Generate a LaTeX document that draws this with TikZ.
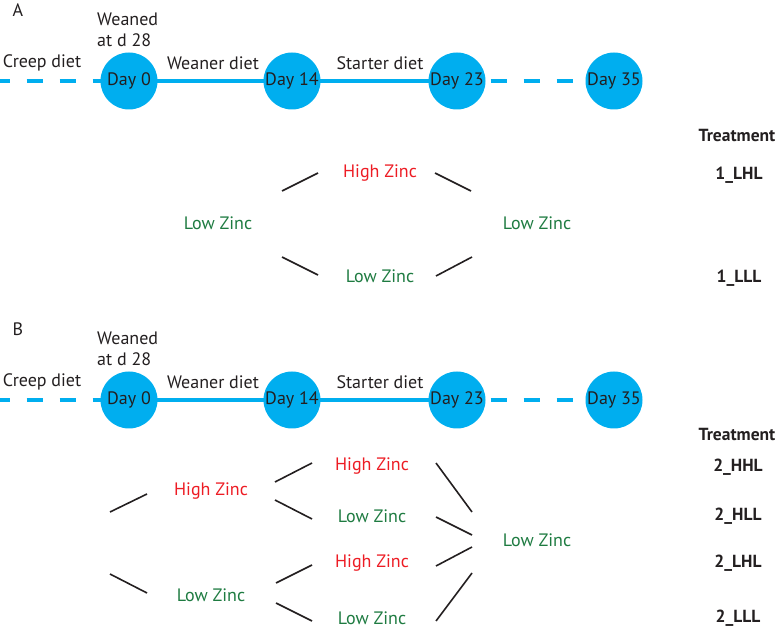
\documentclass[tikz,border=0pt]{standalone}
\usepackage{fontspec}
\setmainfont{PT Sans}
\definecolor{dayblue}{HTML}{00AEEF}
\definecolor{zred}{HTML}{ED1C24}
\definecolor{zgreen}{HTML}{1E7B41}
\definecolor{ink}{HTML}{231F20}
\begin{document}
\begin{tikzpicture}[x=1pt,y=-1pt,
  every node/.style={font=\fontsize{18}{21}\selectfont, text=ink, inner sep=0pt},
  day/.style={circle, fill=dayblue, minimum size=57pt},
  tl/.style={draw=dayblue, line width=3.6pt},
  tldash/.style={tl, dash pattern=on 16.5pt off 16.5pt},
  hz/.style={text=zred},
  lz/.style={text=zgreen},
  trt/.style={font=\fontsize{17.5}{20}\selectfont\bfseries},
  br/.style={draw=ink, line width=1.6pt}
]
\useasboundingbox (0,0) rectangle (777,628);

% ---------- Panel A ----------
\node (labA) at (18,10) {A};
\coordinate (a0) at (129,81);
\coordinate (a14) at (292,81);
\coordinate (a23) at (457,81);
\coordinate (a35) at (614,81);
\coordinate (aL) at (0,81);
\draw[tldash, dash phase=6.5pt] (aL) -- (a0);
\draw[tl] (a0) -- (a14) -- (a23);
\draw[tldash, dash phase=-0.5pt] (a23) -- (a35);
\node[day] (dA0) at (a0) {Day 0};
\node[day] (dA14) at (a14) {Day 14};
\node[day] (dA23) at (a23) {Day 23};
\node[day] (dA35) at (a35) {Day 35};
\node[align=left, anchor=west] (wA) at (97,30) {Weaned\\at d 28};
\node (cA) at (42,63) {Creep diet};
\node (weA) at (213,63) {Weaner diet};
\node (stA) at (380,63) {Starter diet};

\node[trt] (tA) at (737,136) {Treatment};
\node[trt] (tA1) at (739,175) {1\_LHL};
\node[trt] (tA2) at (739,278) {1\_LLL};

\node[hz] (hA) at (380,173) {High Zinc};
\node[lz] (lA1) at (218,223) {Low Zinc};
\node[lz] (lA2) at (537,223) {Low Zinc};
\node[lz] (lA3) at (380,276) {Low Zinc};
\draw[br] (282,191) -- (318,173);
\draw[br] (282,257) -- (318,275);
\draw[br] (435,173) -- (471,191);
\draw[br] (436,276) -- (472,257);

% ---------- Panel B ----------
\node (labB) at (18,329) {B};
\coordinate (b0) at (129,400);
\coordinate (b14) at (292,400);
\coordinate (b23) at (457,400);
\coordinate (b35) at (614,400);
\coordinate (bL) at (0,400);
\draw[tldash, dash phase=6.5pt] (bL) -- (b0);
\draw[tl] (b0) -- (b14) -- (b23);
\draw[tldash, dash phase=-0.5pt] (b23) -- (b35);
\node[day] (dB0) at (b0) {Day 0};
\node[day] (dB14) at (b14) {Day 14};
\node[day] (dB23) at (b23) {Day 23};
\node[day] (dB35) at (b35) {Day 35};
\node[align=left, anchor=west] (wB) at (97,349) {Weaned\\at d 28};
\node (cB) at (42,382) {Creep diet};
\node (weB) at (213,382) {Weaner diet};
\node (stB) at (380,382) {Starter diet};

\node[trt] (tB) at (737,434) {Treatment};
\node[trt] (tB1) at (738,467) {2\_HHL};
\node[trt] (tB2) at (738,516) {2\_HLL};
\node[trt] (tB3) at (738,563) {2\_LHL};
\node[trt] (tB4) at (738,618) {2\_LLL};

\node[hz] (hB1) at (211,491) {High Zinc};
\node[lz] (lB1) at (211,595) {Low Zinc};
\node[hz] (hB2) at (372,466) {High Zinc};
\node[lz] (lB2) at (372,516) {Low Zinc};
\node[hz] (hB3) at (372,563) {High Zinc};
\node[lz] (lB3) at (372,618) {Low Zinc};
\node[lz] (lB4) at (537,540) {Low Zinc};
\draw[br] (110,512) -- (147,494);
\draw[br] (110,574) -- (147,593);
\draw[br] (275,482) -- (312,463);
\draw[br] (275,500) -- (312,519);
\draw[br] (276,583) -- (312,565);
\draw[br] (276,603) -- (312,621);
\draw[br] (436,463) -- (472,512);
\draw[br] (436,517) -- (472,535);
\draw[br] (436,566) -- (472,547);
\draw[br] (436,621) -- (472,573);
\end{tikzpicture}
\end{document}
